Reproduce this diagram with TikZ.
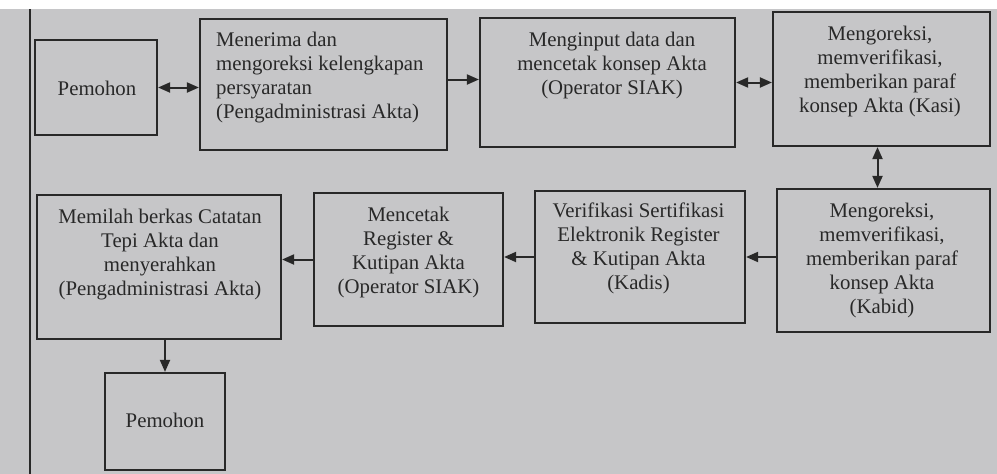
\documentclass[tikz,border=0pt]{standalone}
\usepackage{fontspec}
\setmainfont{Liberation Serif}
\usetikzlibrary{arrows.meta}
\definecolor{paper}{RGB}{198,198,200}
\definecolor{ink}{RGB}{40,40,40}
\tikzset{
  box/.style={draw=ink, line width=2.2pt, inner sep=0pt},
  txt/.style={text=ink, font=\fontsize{20.8}{24}\selectfont, align=center, inner sep=0pt},
  conn/.style={draw=ink, line width=2pt, -{Triangle[length=12pt,width=10pt]}},
  conn2/.style={draw=ink, line width=2pt, {Triangle[length=12pt,width=10pt]}-{Triangle[length=12pt,width=10pt]}}
}
\begin{document}
\begin{tikzpicture}[x=1pt,y=-1pt]
\useasboundingbox (0,0) rectangle (997,474);
\fill[paper] (0,9) rectangle (997,474);
\fill[white] (0,0) rectangle (997,9);
\draw[ink, line width=1.5pt] (30,9) -- (30,474);
% boxes
\node[box, minimum width=122pt, minimum height=95pt] (p1) at (96,87.5) {};
\node[box, minimum width=247pt, minimum height=131pt] (men) at (323.5,84.5) {};
\node[box, minimum width=255pt, minimum height=129pt] (inp) at (607.5,82.5) {};
\node[box, minimum width=217pt, minimum height=134pt] (kasi) at (881.5,79) {};
\node[box, minimum width=213pt, minimum height=143pt] (kabid) at (883.5,260.5) {};
\node[box, minimum width=210pt, minimum height=132pt] (ver) at (640,257) {};
\node[box, minimum width=189pt, minimum height=133pt] (cet) at (408.5,259.5) {};
\node[box, minimum width=244pt, minimum height=144pt] (mem) at (159,267) {};
\node[box, minimum width=120pt, minimum height=97pt] (p2) at (165,421.5) {};
% texts
\node[txt] (p1t) at (97,88) {Pemohon};
\node[txt, align=left, anchor=west] (ment) at (216,77.5) {Menerima dan\\mengoreksi kelengkapan\\persyaratan\\(Pengadministrasi Akta)};
\node[txt] (inpt) at (612,65) {Menginput data dan\\mencetak konsep Akta\\(Operator SIAK)};
\node[txt] (kasit) at (880,71) {Mengoreksi,\\memverifikasi,\\memberikan paraf\\konsep Akta (Kasi)};
\node[txt] (kabidt) at (882,260) {Mengoreksi,\\memverifikasi,\\memberikan paraf\\konsep Akta\\(Kabid)};
\node[txt] (vert) at (638.5,248) {Verifikasi Sertifikasi\\Elektronik Register\\\& Kutipan Akta\\(Kadis)};
\node[txt] (cett) at (408.5,252) {Mencetak\\Register \&\\Kutipan Akta\\(Operator SIAK)};
\node[txt] (memt) at (160,255) {Memilah berkas Catatan\\Tepi Akta dan\\menyerahkan\\(Pengadministrasi Akta)};
\node[txt] (p2t) at (165,420) {Pemohon};
% connectors
\draw[conn2] (p1.east) -- (men.west |- p1.east);
\draw[conn] ([yshift=5pt]men.east) -- ([yshift=5pt]men.east -| inp.west);
\draw[conn2] (inp.east) -- (kasi.west |- inp.east);
\draw[conn2] ([xshift=-4pt]kasi.south) -- ([xshift=-4pt]kasi.south |- kabid.north);
\draw[conn] (kabid.west |- ver.east) -- (ver.east);
\draw[conn] (ver.west) -- (cet.east |- ver.west);
\draw[conn] (cet.west) -- (mem.east |- cet.west);
\draw[conn] (p2.north |- mem.south) -- (p2.north);
\end{tikzpicture}
\end{document}
